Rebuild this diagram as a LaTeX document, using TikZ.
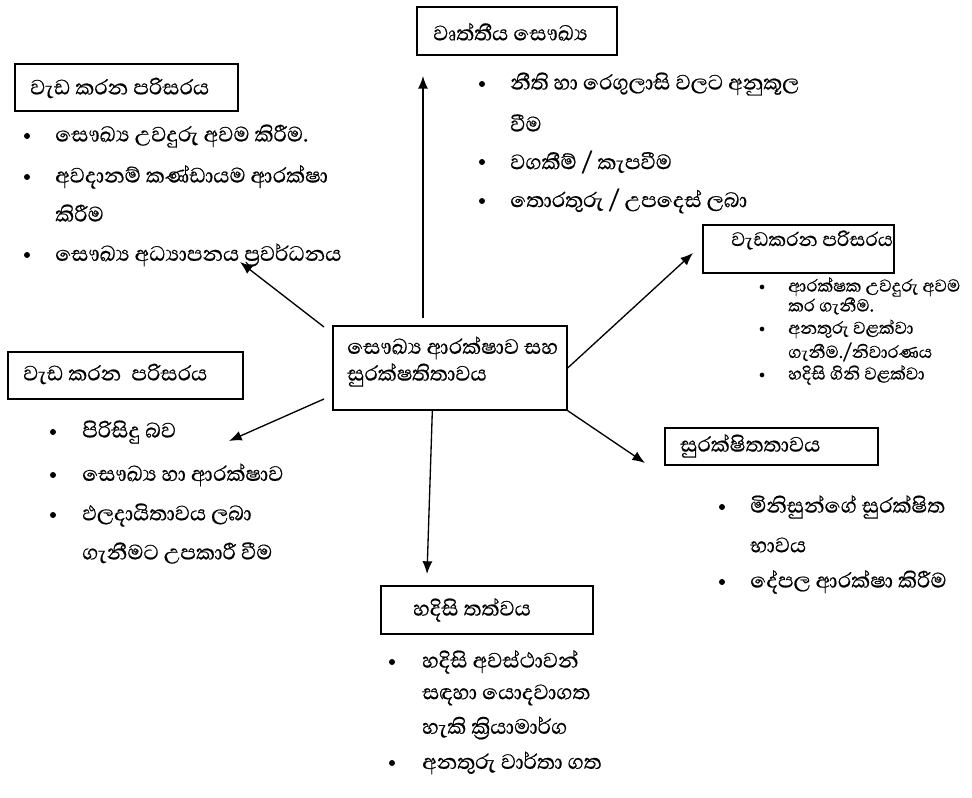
\documentclass[tikz,border=0pt]{standalone}
\usepackage{fontspec}
\newfontfamily\sinhalafont[Script=Sinhala,FakeBold=0.6]{Abhaya Libre}
\usetikzlibrary{arrows.meta,fit}
\begin{document}
\begin{tikzpicture}[x=0.75pt,y=-0.75pt,
  box/.style={draw, line width=1pt, inner sep=0pt},
  txt/.style={anchor=west, inner sep=0pt, font=\sinhalafont\fontsize{20}{24}\selectfont},
  stxt/.style={anchor=west, inner sep=0pt, font=\sinhalafont\fontsize{16.5}{19}\selectfont},
  bul/.style={circle, fill, inner sep=0pt, minimum size=4.5pt},
  sbul/.style={circle, fill, inner sep=0pt, minimum size=3.5pt},
  arr/.style={-{Latex[length=9.5pt,width=7.5pt]}, line width=1pt}]
\useasboundingbox (0,0) rectangle (972,798);

% ---- centre
\node[box, fit={(333,326) (567,410)}] (c) {};
\node[txt] (c1) at (347,348) {සෞඛ්‍ය ආරක්ෂාව සහ};
\node[txt] (c2) at (347,375) {සුරක්ෂතිතාවය};

% ---- top-left
\node[box, fit={(15,64) (238,111)}] (b1) {};
\node[txt] (b1t) at (30,88) {වැඩ කරන පරිසරය};
\node[bul] at (27,136) {}; \node[txt] (b1a) at (55,136) {සෞඛ්‍ය උවදුරු අවම කිරීම.};
\node[bul] at (27,177) {}; \node[txt] (b1b) at (55,177) {අවදානම් කණ්ඩායම ආරක්ෂා};
\node[txt] (b1c) at (55,213) {කිරීම};
\node[bul] at (27,255) {}; \node[txt] (b1d) at (55,255) {සෞඛ්‍ය අධ්‍යාපනය ප්‍රවර්ධනය};

% ---- top-middle
\node[box, fit={(417,7) (617,55)}] (b2) {};
\node[txt] (b2t) at (433,32) {වෘත්තීය සෞඛ්‍ය};
\node[bul] at (482,84) {}; \node[txt] (b2a) at (510,84) {නීති හා රෙගුලාසි වලට අනුකූල};
\node[txt] (b2b) at (510,123) {වීම};
\node[bul] at (482,162) {}; \node[txt] (b2c) at (510,162) {වගකීම් / කැපවීම};
\node[bul] at (482,201) {}; \node[txt] (b2d) at (510,201) {තොරතුරු / උපදෙස් ලබා};

% ---- right
\node[box, fit={(703,225) (894,273)}] (b3) {};
\node[txt, font=\sinhalafont\fontsize{18.6}{22}\selectfont] (b3t) at (731,240) {වැඩකරන පරිසරය};
\node[sbul] at (762,287) {}; \node[stxt] (b3a) at (788,287) {ආරක්ෂක උවදුරු අවම};
\node[stxt] (b3b) at (788,306) {කර ගැනීම.};
\node[sbul] at (762,329) {}; \node[stxt] (b3c) at (788,329) {අනතුරු වළක්වා};
\node[stxt] (b3d) at (788,352) {ගැනීම./නිවාරණය};
\node[sbul] at (762,375) {}; \node[stxt] (b3e) at (788,375) {හදිසි ගිනි වළක්වා};

% ---- left-middle
\node[box, fit={(8,352) (243,399)}] (b4) {};
\node[txt] (b4t) at (23,374) {වැඩ කරන\ \ පරිසරය};
\node[bul] at (53,432) {}; \node[txt] (b4a) at (82,432) {පිරිසිදු බව};
\node[bul] at (53,475) {}; \node[txt] (b4b) at (82,475) {සෞඛ්‍ය හා ආරක්ෂාව};
\node[bul] at (53,515) {}; \node[txt] (b4c) at (82,515) {ඵලදායිතාවය ලබා};
\node[txt] (b4d) at (82,553) {ගැනීමට උපකාරී වීම};

% ---- right-lower
\node[box, fit={(665,428) (878,465)}] (b5) {};
\node[txt] (b5t) at (680,446) {සුරක්ෂිතතාවය};
\node[bul] at (722,507) {}; \node[txt] (b5a) at (750,507) {මිනිසුන්ගේ සුරක්ෂිත};
\node[txt] (b5b) at (750,545) {භාවය};
\node[bul] at (722,582) {}; \node[txt] (b5c) at (750,582) {දේපල ආරක්ෂා කිරීම};

% ---- bottom
\node[box, fit={(381,586) (593,634)}] (b6) {};
\node[txt] (b6t) at (413,610) {හදිසි තත්වය};
\node[bul] at (392,662) {}; \node[txt] (b6a) at (422,662) {හදිසි අවස්ථාවන්};
\node[txt] (b6b) at (422,695) {සඳහා යොදවාගත};
\node[txt] (b6c) at (422,728) {හැකි ක්‍රියාමාර්ග};
\node[bul] at (392,763) {}; \node[txt] (b6d) at (422,763) {අනතුරු වාර්තා ගත};

% ---- arrows
\coordinate (sU) at (423,318);  \coordinate (eU) at (423,76);
\coordinate (sTL) at (324,327); \coordinate (eTL) at (240,262);
\coordinate (sL) at (324,399);  \coordinate (eL) at (229,441);
\coordinate (eR) at (693,253);
\coordinate (eRD) at (645,463);
\coordinate (eD) at (427,574);
\draw[arr] (sU) -- (eU);
\draw[arr] (sTL) -- (eTL);
\draw[arr] (sL) -- (eL);
\draw[arr] (c.east) -- (eR);
\draw[arr] (c.south east) -- (eRD);
\draw[arr] ([xshift=75pt]c.south west) -- (eD);
\end{tikzpicture}
\end{document}
